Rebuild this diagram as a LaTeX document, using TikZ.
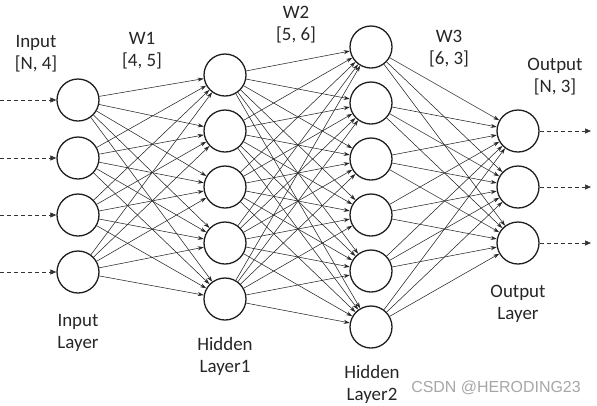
\documentclass[tikz,border=0pt]{standalone}
\usepackage{fontspec}
\setmainfont{Carlito}
\newfontfamily\wmfont{Liberation Sans}
\usetikzlibrary{arrows.meta}
\begin{document}
\begin{tikzpicture}[x=1bp,y=-1bp,
  neuron/.style={circle,draw=black!88,line width=1.3bp,minimum size=42bp,inner sep=0pt},
  conn/.style={draw=black!85,line width=0.55bp,-{Stealth[length=6bp,width=4bp]}},
  io/.style={draw=black!80,line width=0.7bp,dash pattern=on 4bp off 3bp,-{Triangle[length=6bp,width=5bp]}},
  lbl/.style={align=center,font=\fontsize{19}{22}\selectfont,text=black!85,inner sep=0pt}]
\useasboundingbox (0,0) rectangle (597,405);
% input layer
\foreach \i/\y in {1/100,2/158,3/215,4/272}{\node[neuron] (i\i) at (78,\y) {};}
% hidden 1
\foreach \i/\y in {1/75,2/131,3/187,4/243,5/299}{\node[neuron] (h\i) at (225,\y) {};}
% hidden 2
\foreach \i/\y in {1/47,2/103,3/159,4/215,5/271,6/327}{\node[neuron] (g\i) at (371,\y) {};}
% output
\foreach \i/\y in {1/131,2/187,3/243}{\node[neuron] (o\i) at (518,\y) {};}
% connections
\foreach \a in {1,...,4}{\foreach \b in {1,...,5}{\draw[conn] (i\a) -- (h\b);}}
\foreach \a in {1,...,5}{\foreach \b in {1,...,6}{\draw[conn] (h\a) -- (g\b);}}
\foreach \a in {1,...,6}{\foreach \b in {1,...,3}{\draw[conn] (g\a) -- (o\b);}}
% io arrows
\foreach \i/\y in {1/100,2/158,3/215,4/272}{\coordinate (s\i) at (0,\y); \draw[io] (s\i) -- (i\i);}
\foreach \i/\y in {1/131,2/187,3/243}{\coordinate (e\i) at (591,\y); \draw[io] (o\i) -- (e\i);}
% labels
\node[lbl] (tin) at (36,54) {Input\\{[}N, 4{]}};
\node[lbl] (tw1) at (142,51) {W1\\{[}4, 5{]}};
\node[lbl] (tw2) at (296,25) {W2\\{[}5, 6{]}};
\node[lbl] (tw3) at (449,49) {W3\\{[}6, 3{]}};
\node[lbl] (tout) at (555,77) {Output\\{[}N, 3{]}};
\node[lbl] (lin) at (78,333) {Input\\Layer};
\node[lbl] (lh1) at (225,356) {Hidden\\Layer1};
\node[lbl] (lh2) at (372,384) {Hidden\\Layer2};
\node[lbl] (lout) at (518,304) {Output\\Layer};
\node[font=\wmfont\fontsize{16}{18}\selectfont,text=black!35,inner sep=0pt] (wm) at (496,388) {CSDN @HERODING23};
\end{tikzpicture}
\end{document}
